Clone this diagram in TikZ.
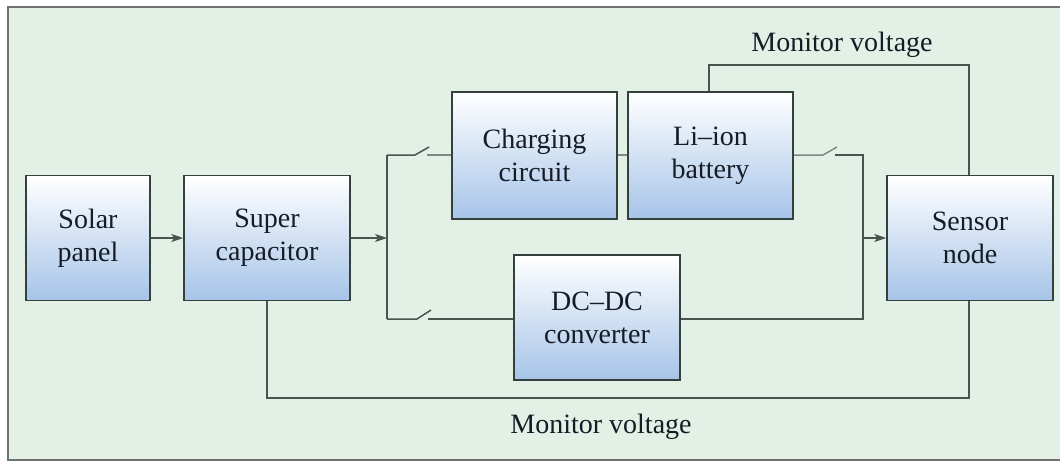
\documentclass[tikz,border=0pt]{standalone}
\usepackage{fontspec}
\setmainfont{Liberation Serif}
\usetikzlibrary{arrows.meta}
\definecolor{bgcol}{HTML}{E2F0E6}
\definecolor{framecol}{HTML}{6E7370}
\definecolor{boxblue}{HTML}{A6C4E8}
\definecolor{edgecol}{HTML}{34403E}
\definecolor{wirecol}{HTML}{48554F}
\definecolor{wirelight}{HTML}{7C8A84}
\definecolor{txtcol}{HTML}{161C26}
\tikzset{
  blk/.style={draw=edgecol, line width=1.5pt, top color=white, bottom color=boxblue,
    align=center, inner sep=0pt, font=\fontsize{28}{33}\selectfont, text=txtcol},
  wire/.style={draw=wirecol, line width=1.5pt},
  lwire/.style={draw=wirelight, line width=1.5pt},
  arr/.style={wire, -{Stealth[length=12pt,width=8pt,inset=3pt]}},
  lbl/.style={font=\fontsize{28}{32}\selectfont, text=txtcol, inner sep=0pt}
}
\begin{document}
\begin{tikzpicture}[x=1pt,y=-1pt]
\useasboundingbox (0,0) rectangle (1060,461);
\fill[bgcol] (8,7) rectangle (1060,460);
\draw[framecol, line width=1.5pt] (1060,7) -- (8,7) -- (8,460) -- (1060,460);

\node[blk, minimum width=124pt, minimum height=125pt] (solar) at (88,238) {Solar\\panel};
\node[blk, minimum width=166pt, minimum height=125pt] (super) at (267,238) {Super\\capacitor};
\node[blk, minimum width=165pt, minimum height=127pt] (charge) at (534.5,155.5) {Charging\\circuit};
\node[blk, minimum width=165pt, minimum height=127pt] (batt) at (710.5,155.5) {Li\textendash ion\\battery};
\node[blk, minimum width=166pt, minimum height=125pt] (dcdc) at (597,317.5) {DC\textendash DC\\converter};
\node[blk, minimum width=166pt, minimum height=125pt] (sensor) at (970,238) {Sensor\\node};

\coordinate (jl) at (387,238);
\coordinate (jlt) at (387,155);
\coordinate (jlb) at (387,319);
\coordinate (jr) at (863,238);
\coordinate (jrt) at (863,155);
\coordinate (jrb) at (863,319);

% main arrows
\draw[arr] (solar.east) -- (super.west);
\draw[arr] (super.east) -- (jl);
\draw[arr] (jr) -- (sensor.west);

% left bus with switches
\draw[wire] (jlt) -- (jlb);
\draw[wire] (jlt) -- (415,155) -- (429,147);
\draw[lwire] (427,155) -- (charge.west |- 0,155);
\draw[lwire] (charge.east |- 0,155) -- (batt.west |- 0,155);
\draw[wire] (jlb) -- (417,319) -- (431,310);
\draw[wire] (428,319) -- (dcdc.west |- 0,319);

% right bus with switch
\draw[lwire] (batt.east |- 0,155) -- (823,155) -- (837,147);
\draw[wire] (835,155) -- (jrt) -- (jrb) -- (dcdc.east |- 0,319);

% monitor voltage loops
\draw[wire] (batt.north -| 709,0) -- (709,65) -- (969,65) -- (sensor.north -| 969,0);
\draw[wire] (super.south) -- (267,398) -- (969,398) -- (sensor.south -| 969,0);

\node[lbl] (mtop) at (842,45) {Monitor voltage};
\node[lbl] (mbot) at (601,427) {Monitor voltage};
\end{tikzpicture}
\end{document}
